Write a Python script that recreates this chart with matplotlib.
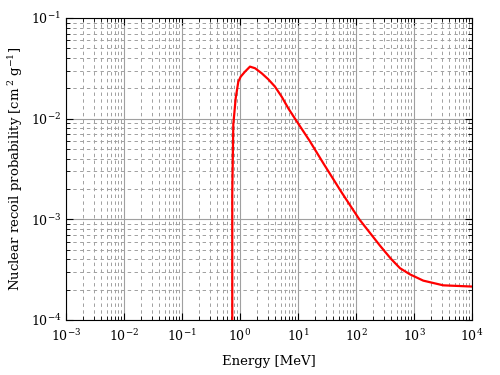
import numpy as np
import matplotlib
matplotlib.use("Agg")
import matplotlib.pyplot as plt
from matplotlib.ticker import LogLocator

plt.rcParams['font.family'] = 'DejaVu Serif'
plt.rcParams['mathtext.fontset'] = 'dejavuserif'

# curve (energy in MeV, probability in cm^2 g^-1)
energy = [0.736, 0.736, 0.766, 0.843, 0.935, 1.028, 1.219, 1.486, 1.816,
          2.366, 3.076, 4.009, 5.236, 6.81, 8.87, 15.85, 27.3, 56.2, 114,
          259, 398, 574, 853, 1445, 3199, 9840]
prob = [8e-5, 1.82e-3, 8.71e-3, 0.01596, 0.02328, 0.02612, 0.02931, 0.03289,
        0.03170, 0.02825, 0.02460, 0.02080, 0.01652, 0.01265, 0.0100,
        6.03e-3, 3.61e-3, 1.86e-3, 1.0e-3, 5.48e-4, 4.07e-4, 3.27e-4,
        2.84e-4, 2.46e-4, 2.21e-4, 2.15e-4]

fig = plt.figure(figsize=(5, 3.75), dpi=100)
ax = fig.add_axes([66/500, 1-320/375, (472-66)/500, (320-18)/375])

ax.plot(energy, prob, color='red', lw=1.6, zorder=3)

ax.set_xscale('log')
ax.set_yscale('log')
ax.set_xlim(1e-3, 1e4)
ax.set_ylim(1e-4, 1e-1)
ax.xaxis.set_major_locator(LogLocator(base=10, numticks=20))
ax.xaxis.set_minor_locator(LogLocator(base=10, subs=np.arange(2, 10), numticks=20))
ax.yaxis.set_minor_locator(LogLocator(base=10, subs=np.arange(2, 10), numticks=20))

ax.grid(which='major', color='#a0a0a0', lw=0.8, ls='-')
ax.grid(which='minor', color='#a0a0a0', lw=0.7, ls=(0, (3.5, 3.5)))
ax.tick_params(which='both', direction='in', top=True, right=True, labelsize=9)
ax.tick_params(which='major', length=5)
ax.tick_params(which='minor', length=3)
ax.tick_params(axis='x', pad=6)

ax.set_xlabel('Energy [MeV]', fontsize=9.5, labelpad=8)
ax.set_ylabel('Nuclear recoil probability [cm$\\,^{2}$ g$^{-1}$]', fontsize=9.5)

fig.savefig('out.png')
